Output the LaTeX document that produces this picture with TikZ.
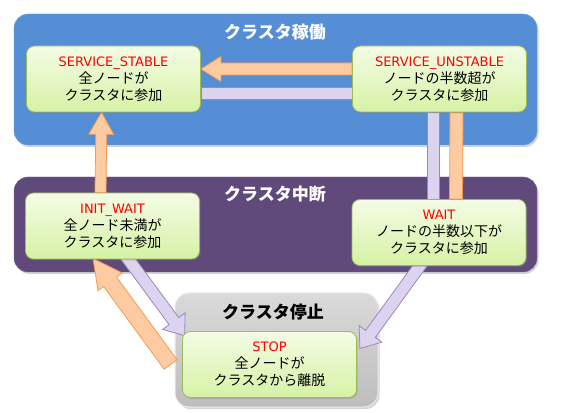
\documentclass[tikz,border=0pt]{standalone}
\usepackage{fontspec}
\setmainfont{Noto Sans CJK JP}
\newfontfamily\labelfont{DejaVu Sans}
\usetikzlibrary{calc,shadows}

\definecolor{runblue}{HTML}{558ED5}
\definecolor{runblueline}{HTML}{7AA7E0}
\definecolor{haltpurple}{HTML}{604A7B}
\definecolor{haltpurpleline}{HTML}{7B6897}
\definecolor{stoptop}{HTML}{DADADA}
\definecolor{stopbot}{HTML}{BDBDBD}
\definecolor{statetop}{HTML}{F4FCE6}
\definecolor{statebot}{HTML}{D6F2A4}
\definecolor{stateline}{HTML}{9BBB59}
\definecolor{arrorange}{HTML}{FDCBA2}
\definecolor{arrorangeline}{HTML}{F59A50}
\definecolor{arrlav}{HTML}{DCD3EE}
\definecolor{arrlavline}{HTML}{9B86C2}

\pgfdeclarelayer{bg}
\pgfdeclarelayer{arr}
\pgfsetlayers{bg,arr,main}

% block arrow: style, from, to, shaft half width, head half width, head length
\newcommand{\blockarrow}[6]{%
  \coordinate (ba-h) at ($(#3)!#6!(#2)$);
  \filldraw[#1] ($(#2)!#4!90:(#3)$) -- ($(ba-h)!#4!90:(#3)$) -- ($(ba-h)!#5!90:(#3)$)
    -- (#3) -- ($(ba-h)!#5!-90:(#3)$) -- ($(ba-h)!#4!-90:(#3)$) -- ($(#2)!#4!-90:(#3)$) -- cycle;
}
% block bar: style, from, to, half width
\newcommand{\blockbar}[4]{%
  \filldraw[#1] ($(#2)!#4!90:(#3)$) -- ($(#3)!#4!-90:(#2)$) -- ($(#3)!#4!90:(#2)$)
    -- ($(#2)!#4!-90:(#3)$) -- cycle;
}
% red state name
\newcommand{\statename}[1]{{\labelfont\fontsize{13}{17}\selectfont\textcolor{red}{#1}}}

\tikzset{
  statebox/.style={rounded corners=8pt, draw=stateline, line width=0.8pt,
    top color=statetop, bottom color=statebot, minimum width=174pt,
    minimum height=66pt, inner sep=0pt, align=center,
    font=\fontsize{14}{17}\selectfont,
    drop shadow={shadow xshift=1.2pt, shadow yshift=-1.5pt, opacity=0.3}},
  groupbox/.style={rounded corners=14pt, inner sep=0pt,
    drop shadow={shadow xshift=1.5pt, shadow yshift=-2pt, opacity=0.35}},
  grouptitle/.style={font=\bfseries\fontsize{17}{17}\selectfont},
  orangearrow/.style={fill=arrorange, draw=arrorangeline, line width=0.8pt},
  lavarrow/.style={fill=arrlav, draw=arrlavline, line width=0.8pt},
}

\begin{document}
\begin{tikzpicture}[x=1pt,y=1pt]
  \useasboundingbox (0,0) rectangle (561,412);
  % States
  \node[statebox] (sst) at (113.5,333) {\statename{SERVICE\_STABLE}\\全ノードが\\クラスタに参加};
  \node[statebox] (sun) at (439.5,333) {\statename{SERVICE\_UNSTABLE}\\ノードの半数超が\\クラスタに参加};
  \node[statebox] (iw) at (112.5,186) {\statename{INIT\_WAIT}\\全ノード未満が\\クラスタに参加};
  \node[statebox] (wait) at (439,179.5) {\statename{WAIT}\\ノードの半数以下が\\クラスタに参加};
  \node[statebox] (stop) at (269.5,47.5) {\statename{STOP}\\全ノードが\\クラスタから離脱};
  % Group titles
  \node[grouptitle, text=white] (trun) at (275,380) {クラスタ稼働};
  \node[grouptitle, text=white] (thalt) at (275,218) {クラスタ中断};
  \node[grouptitle] (tstop) at (273,100) {クラスタ停止};
  % Groups
  \begin{pgfonlayer}{bg}
    \node[groupbox, fill=runblue, draw=runblueline, minimum width=523pt, minimum height=131pt] (grun) at (275.5,332.5) {};
    \node[groupbox, fill=haltpurple, draw=haltpurpleline, minimum width=523pt, minimum height=95pt] (ghalt) at (275.5,187.5) {};
    \node[groupbox, top color=stoptop, bottom color=stopbot, draw=white!85!gray, line width=1pt, minimum width=203pt, minimum height=114pt] (gstop) at (276.5,62) {};
  \end{pgfonlayer}
  % Transitions
  \begin{pgfonlayer}{arr}
    \coordinate (a1s) at ([yshift=10pt]sun.west);
    \coordinate (a1e) at ([yshift=10pt]sst.east);
    \blockarrow{orangearrow}{a1s}{a1e}{6pt}{12.5pt}{20pt}
    \coordinate (a2s) at ([yshift=-14pt]sst.east);
    \coordinate (a2e) at ([yshift=-14pt]sun.west);
    \blockbar{lavarrow}{a2s}{a2e}{6pt}
    \coordinate (a3s) at ([xshift=-12pt]iw.north);
    \coordinate (a3e) at ([xshift=-12pt]sst.south);
    \blockarrow{orangearrow}{a3s}{a3e}{5.5pt}{12.5pt}{22pt}
    \coordinate (a4s) at ([xshift=-6.5pt]sun.south);
    \coordinate (a4e) at ([xshift=-6pt]wait.north);
    \blockbar{lavarrow}{a4s}{a4e}{6pt}
    \coordinate (a5s) at ([xshift=17pt]wait.north);
    \coordinate (a5e) at ([xshift=17pt]sun.south);
    \blockbar{orangearrow}{a5s}{a5e}{6.5pt}
    \coordinate (a6s) at ([xshift=10pt,yshift=8pt]iw.south);
    \coordinate (a6e) at ([xshift=2.5pt,yshift=-4.5pt]stop.north west);
    \blockarrow{lavarrow}{a6s}{a6e}{6pt}{14pt}{18pt}
    \coordinate (a7s) at ([xshift=-11.5pt]stop.west);
    \coordinate (a7e) at ([xshift=-19.5pt,yshift=1pt]iw.south);
    \blockarrow{orangearrow}{a7s}{a7e}{8pt}{15pt}{29pt}
    \coordinate (a8s) at ([xshift=-17pt,yshift=3pt]wait.south);
    \coordinate (a8e) at ([xshift=3pt,yshift=16pt]stop.east);
    \blockarrow{lavarrow}{a8s}{a8e}{6pt}{14pt}{18pt}
  \end{pgfonlayer}
\end{tikzpicture}
\end{document}
